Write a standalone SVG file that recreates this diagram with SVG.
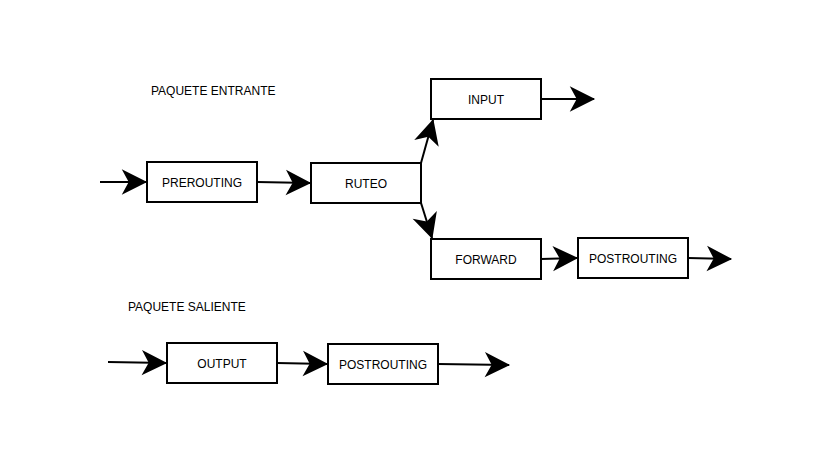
<svg xmlns="http://www.w3.org/2000/svg" width="830" height="460" viewBox="0 0 830 460">
<style>
.box{fill:#fff;stroke:#000;stroke-width:2}
.lbl{font-family:"Liberation Sans",Arial,sans-serif;font-size:12px;fill:#000;text-anchor:middle}
.title{font-family:"Liberation Sans",Arial,sans-serif;font-size:12px;fill:#000}
.edge{fill:none;stroke:#000;stroke-width:2;marker-end:url(#arr)}
</style>
<defs>
<marker id="arr" markerUnits="userSpaceOnUse" markerWidth="30" markerHeight="30" viewBox="-24 -13 26 26" refX="0" refY="0" orient="auto">
<path d="M1,0 L-21,-11 L-15,0 L-21,11 Z" fill="#000"/>
</marker>
</defs>
<rect width="830" height="460" fill="#fff"/>
<text class="title" x="151" y="95">PAQUETE ENTRANTE</text>
<text class="title" x="128" y="311">PAQUETE SALIENTE</text>
<g id="connectors">
<path class="edge" d="M100,182 L146,182"/>
<path class="edge" d="M257,182 L310,183"/>
<path class="edge" d="M421,163 L433,120"/>
<path class="edge" d="M421,203 L432,238"/>
<path class="edge" d="M541,99 L594,99"/>
<path class="edge" d="M541,259 L577,258"/>
<path class="edge" d="M688,258 L731,259"/>
<path class="edge" d="M108,362 L166,363"/>
<path class="edge" d="M277,363 L327,364"/>
<path class="edge" d="M438,364 L509,365"/>
</g>
<g id="prerouting"><rect class="box" x="147" y="162" width="110" height="40"/><text class="lbl" x="202" y="187">PREROUTING</text></g>
<g id="ruteo"><rect class="box" x="311" y="163" width="110" height="40"/><text class="lbl" x="366" y="188">RUTEO</text></g>
<g id="input"><rect class="box" x="431" y="79" width="110" height="40"/><text class="lbl" x="486" y="104">INPUT</text></g>
<g id="forward"><rect class="box" x="431" y="239" width="110" height="40"/><text class="lbl" x="486" y="264">FORWARD</text></g>
<g id="postrouting1"><rect class="box" x="578" y="238" width="110" height="40"/><text class="lbl" x="633" y="263">POSTROUTING</text></g>
<g id="output"><rect class="box" x="167" y="343" width="110" height="40"/><text class="lbl" x="222" y="368">OUTPUT</text></g>
<g id="postrouting2"><rect class="box" x="328" y="344" width="110" height="40"/><text class="lbl" x="383" y="369">POSTROUTING</text></g>
</svg>
